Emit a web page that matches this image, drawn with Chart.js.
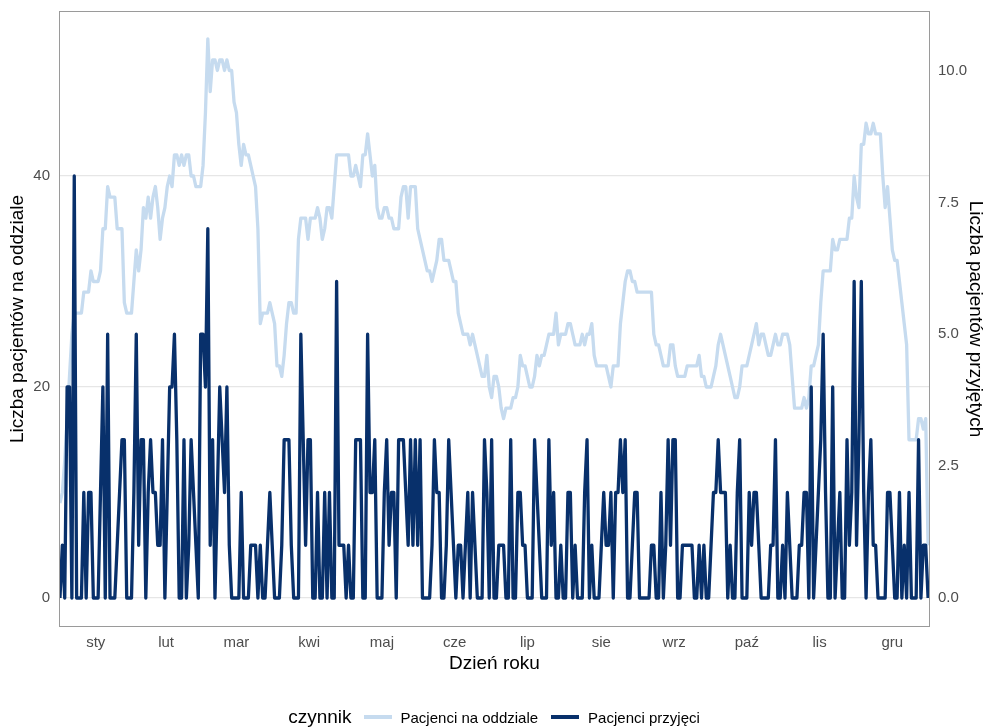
<!DOCTYPE html>
<html>
<head>
<meta charset="utf-8">
<script src="https://cdn.jsdelivr.net/npm/chart.js@4/dist/chart.umd.min.js"></script>
<style>
html,body{margin:0;padding:0;background:#ffffff;}
#wrap{position:relative;width:988px;height:727px;}
#legend{position:absolute;left:0;top:706px;width:988px;height:22px;display:flex;justify-content:center;align-items:center;font-family:"Liberation Sans",Arial,sans-serif;color:#000;}
#legend .ttl{font-size:19px;margin-right:12px;}
#legend .sw{display:inline-block;width:28px;height:3.5px;margin-right:9px;}
#legend .lab{font-size:15px;margin-right:13px;}
</style>
</head>
<body>
<div id="wrap">
<canvas id="c" width="988" height="727"></canvas>
<div id="legend"></div>
</div>
<script>
// ---- data ----
const legendTitle = 'czynnik';
const seriesNames = ['Pacjenci na oddziale', 'Pacjenci przyjęci'];
const seriesColors = ['#c6dbef', '#08306b'];
const monthLabels = ['sty','lut','mar','kwi','maj','cze','lip','sie','wrz','paź','lis','gru'];
const monthTickDays = [16, 45.5, 75, 105.5, 136, 166.5, 197, 228, 258.5, 289, 319.5, 350];
const leftTicks = [0, 20, 40];
const rightTicks = [0, 2.5, 5, 7.5, 10];
const rightTickLabels = ['0.0', '2.5', '5.0', '7.5', '10.0'];
const xTitle = 'Dzień roku';
const leftTitle = 'Liczba pacjentów na oddziale';
const rightTitle = 'Liczba pacjentów przyjętych';

const wardPatients = [
 9,10,13,17,21,25,27,27,27,27, 29,29,29,31,30,30,30,31,35,35, 39,38,38,38,35,35,35,28,27,27, 27,30,33,31,33,37,
 36,38,36,38,39,37,34,36,37,39, 40,39,42,42,41,42,41,42,42,40, 40,39,39,39,41,46,53,48,51,51, 50,51,51,50,51,50,50,47,
 46,43,41,43,42,42,41,40,39,35, 26,27,27,27,28,27,26,22,22,21, 23,26,28,28,27,27,34,36,36,36, 34,36,36,36,37,36,
 34,35,37,37,36,39,42,42,42,42, 42,42,40,40,41,40,39,42,42,44, 42,40,41,37,36,36,37,37,36,36, 35,35,35,38,39,39,36,
 39,39,39,35,34,33,32,31,31,30, 31,32,34,34,32,32,32,31,30,30, 27,26,25,25,25,24,25,24,23,22, 21,21,23,20,19,21,21,
 20,18,17,18,18,18,19,19,20,23, 22,22,21,20,20,21,23,22,23,23, 24,25,25,25,27,24,25,25,25,26, 26,25,24,24,24,25,24,
 25,25,26,23,22,22,22,22,22,21, 20,22,22,22,26,28,30,31,31,30, 30,29,29,29,29,29,29,29,25,24, 24,23,22,22,22,24,24,
 22,21,21,21,21,22,22,22,22,22, 23,21,21,20,20,20,21,22,24,25, 24,23,22,21,20,19,19,20,22,22, 22,23,24,25,26,24,25,
 25,24,23,23,24,25,24,24,25,25, 25,24,21,18,18,18,18,19,18,19, 22,22,23,24,28,31,31,31,31,34, 33,33,34,34,34,34,36,
 36,40,38,37,43,43,45,44,44,45, 44,44,44,40,37,39,36,33,32,32, 30,28,26,24,15,15,15,15,17,17, 16,17,5
];
const admittedPatients = [
 0,1,0,4,4,0,8,0,0,0, 2,0,2,2,0,0,0,2,4,0, 5,0,0,0,1,2,3,3,0,0, 0,2,5,1,3,3,
 0,2,3,2,2,1,1,3,0,2, 4,4,5,3,0,0,3,0,1,3, 2,1,0,5,5,4,7,1,3,0, 2,4,3,2,4,1,0,0,
 0,0,2,0,0,0,1,1,1,0, 1,0,0,1,2,1,0,0,0,1, 3,3,3,1,0,0,0,5,3,1, 3,3,0,0,2,0,
 0,2,0,2,0,0,6,1,1,1, 0,1,0,0,3,3,3,0,0,5, 2,2,3,0,0,0,2,3,1,2, 2,0,3,3,3,2,1,
 3,1,3,1,3,0,0,0,0,1, 3,2,2,0,0,1,3,2,1,0, 1,1,0,1,2,0,2,1,0,0, 0,3,2,0,3,0,0,
 1,1,1,0,0,3,0,0,2,2, 1,1,0,0,0,3,2,1,0,0, 0,3,1,2,0,0,1,0,0,2, 2,0,1,0,0,0,2,
 3,0,1,0,0,0,1,2,1,1, 2,0,2,2,3,2,3,0,0,1, 2,2,0,0,0,0,0,1,1,0, 0,2,0,1,3,1,3,
 3,0,0,1,1,1,1,1,0,0, 1,0,1,0,0,1,2,2,3,2, 2,2,0,1,0,0,2,3,0,0, 0,2,1,2,2,1,0,
 0,0,0,1,1,3,0,0,1,0, 2,1,0,0,0,1,1,2,2,0, 4,0,1,2,3,5,2,0,0,4, 0,1,2,0,0,3,1,
 2,6,1,3,6,2,0,2,3,1, 1,0,0,0,0,2,2,1,0,0, 2,0,1,0,2,0,0,0,3,0, 1,1,0
];
const days = wardPatients.map((_, i) => i + 1);

// ---- chart ----
const FONT = '"Liberation Sans", Arial, sans-serif';

const panelBorder = {
  id: 'panelBorder',
  afterDatasetsDraw(chart) {
    const {ctx, chartArea: a} = chart;
    ctx.save();
    ctx.strokeStyle = '#9a9a9a';
    ctx.lineWidth = 1;
    ctx.strokeRect(Math.round(a.left) + 0.5, Math.round(a.top) + 0.5, Math.round(a.right - a.left) - 1, Math.round(a.bottom - a.top) - 1);
    ctx.restore();
  }
};

function noPad(s) {
  s.paddingTop = 0; s.paddingBottom = 0; s.paddingLeft = 0; s.paddingRight = 0;
}

new Chart(document.getElementById('c'), {
  type: 'line',
  data: {
    datasets: [
      {
        label: seriesNames[0],
        data: days.map((d, i) => ({x: d, y: wardPatients[i]})),
        borderColor: seriesColors[0],
        borderWidth: 3.3,
        pointRadius: 0,
        tension: 0,
        borderJoinStyle: 'round',
        yAxisID: 'y',
        order: 2
      },
      {
        label: seriesNames[1],
        data: days.map((d, i) => ({x: d, y: admittedPatients[i]})),
        borderColor: seriesColors[1],
        borderWidth: 3.3,
        pointRadius: 0,
        tension: 0,
        borderJoinStyle: 'round',
        yAxisID: 'y2',
        order: 1
      }
    ]
  },
  options: {
    responsive: false,
    animation: false,
    layout: {padding: {left: 0, right: 0, top: 11, bottom: 52}},
    plugins: {legend: {display: false}, tooltip: {enabled: false}},
    scales: {
      x: {
        type: 'linear',
        min: 0.6,
        max: 365.8,
        grid: {display: false, drawTicks: false},
        border: {display: false},
        afterBuildTicks: s => { s.ticks = monthTickDays.map(v => ({value: v})); },
        afterFit: s => { s.height = 48; noPad(s); },
        ticks: {
          autoSkip: false, maxRotation: 0, minRotation: 0, padding: 7,
          color: '#4d4d4d', font: {family: FONT, size: 15},
          callback: v => { const i = monthTickDays.indexOf(v); return i >= 0 ? monthLabels[i] : ''; }
        },
        title: {display: true, text: xTitle, color: '#000', font: {family: FONT, size: 19}, padding: {top: 0, bottom: 0}}
      },
      y: {
        position: 'left',
        min: -2.75,
        max: 55.64,
        grid: {color: '#e6e6e6', lineWidth: 1.2, drawTicks: false},
        border: {display: false},
        afterBuildTicks: s => { s.ticks = leftTicks.map(v => ({value: v})); },
        afterFit: s => { s.width = 59; noPad(s); },
        ticks: {padding: 9, color: '#4d4d4d', font: {family: FONT, size: 15}},
        title: {display: true, text: leftTitle, color: '#000', font: {family: FONT, size: 19}, padding: {top: 6, bottom: 0}}
      },
      y2: {
        position: 'right',
        min: -0.55,
        max: 11.128,
        grid: {display: false, drawTicks: false},
        border: {display: false},
        afterBuildTicks: s => { s.ticks = rightTicks.map(v => ({value: v})); },
        afterFit: s => { s.width = 58; noPad(s); },
        ticks: {
          padding: 8, color: '#4d4d4d', font: {family: FONT, size: 15},
          callback: v => { const i = rightTicks.indexOf(v); return i >= 0 ? rightTickLabels[i] : ''; }
        },
        title: {display: true, text: rightTitle, color: '#000', font: {family: FONT, size: 19}, padding: {top: 1, bottom: 0}}
      }
    }
  },
  plugins: [panelBorder]
});

// ---- legend (HTML text) ----
const lg = document.getElementById('legend');
const t = document.createElement('span');
t.className = 'ttl';
t.textContent = legendTitle;
lg.appendChild(t);
seriesNames.forEach((name, i) => {
  const sw = document.createElement('span');
  sw.className = 'sw';
  sw.style.background = seriesColors[i];
  lg.appendChild(sw);
  const lb = document.createElement('span');
  lb.className = 'lab';
  lb.textContent = name;
  if (i === seriesNames.length - 1) lb.style.marginRight = '0';
  lg.appendChild(lb);
});
</script>
</body>
</html>
